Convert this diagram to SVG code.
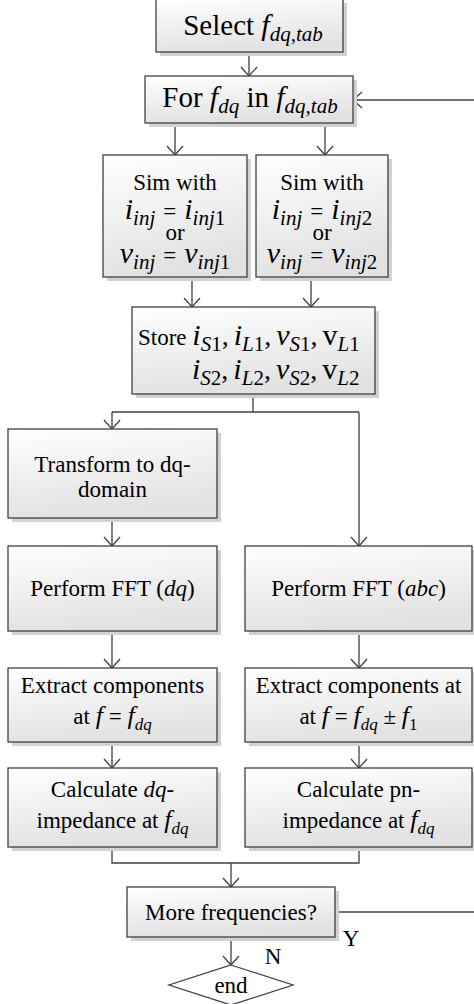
<svg xmlns="http://www.w3.org/2000/svg" width="474" height="1004" viewBox="0 0 474 1004" font-family="'Liberation Serif', 'Times New Roman', serif">
<defs>
<linearGradient id="g" x1="0" y1="0" x2="0.25" y2="1">
<stop offset="0" stop-color="#ffffff"/><stop offset="1" stop-color="#e2e2e2"/>
</linearGradient>
<marker id="a" markerUnits="userSpaceOnUse" viewBox="-11 -10 13 20" markerWidth="13" markerHeight="20" refX="0" refY="0" orient="auto">
<path d="M-9,-8 L0,0 L-9,8" fill="none" stroke="#404040" stroke-width="1.3"/>
</marker>
</defs>
<style>
.box{fill:url(#g);stroke:#404040;stroke-width:1.3}
.sh{fill:#d2d2d2}
.t{font-family:"Liberation Serif","Times New Roman",serif;font-size:23px;fill:#000;text-anchor:middle}
.l{text-anchor:start}
.i{font-style:italic;font-size:26px}
.s{font-size:17px;font-style:italic}
.n{font-size:17px;font-style:normal}
.m{font-style:italic;font-size:30px}
.ms{font-style:italic;font-size:21px}
.mn{font-style:normal;font-size:21px}
.big{font-size:29px}
.ln{fill:none;stroke:#404040;stroke-width:1.3}
</style>
<g id="connectors" class="ln">
<path d="M249,52 V76" marker-end="url(#a)"/>
<path d="M474,100 H353" marker-end="url(#a)"/>
<path d="M175,123 V155" marker-end="url(#a)"/>
<path d="M325,123 V155" marker-end="url(#a)"/>
<path d="M192,277 V307" marker-end="url(#a)"/>
<path d="M311,277 V307" marker-end="url(#a)"/>
<path d="M253,394 V412 M112,412 H359"/>
<path d="M112,412 V429" marker-end="url(#a)"/>
<path d="M359,412 V546" marker-end="url(#a)"/>
<path d="M112,518 V546" marker-end="url(#a)"/>
<path d="M112,631 V668" marker-end="url(#a)"/>
<path d="M359,631 V668" marker-end="url(#a)"/>
<path d="M112,742 V768" marker-end="url(#a)"/>
<path d="M359,742 V768" marker-end="url(#a)"/>
<path d="M112,847 V863 H359 V847"/>
<path d="M231,863 V887" marker-end="url(#a)"/>
<path d="M335,912 H474"/>
<path d="M231,937 V965" marker-end="url(#a)"/>
</g>
<g id="select">
<rect class="sh" x="160" y="3" width="187" height="53"/>
<rect class="box" x="156" y="-1" width="187" height="53"/>
<text class="t big" x="253" y="35">Select <tspan class="m" font-size="32">f</tspan><tspan class="ms" font-size="22" dy="6">dq,tab</tspan></text>
</g>
<g id="for">
<rect class="sh" x="149" y="80" width="208" height="47"/>
<rect class="box" x="145" y="76" width="208" height="47"/>
<text class="t big" x="250" y="107">For <tspan class="m">f</tspan><tspan class="ms" dy="6">dq</tspan><tspan dy="-6"> in </tspan><tspan class="m">f</tspan><tspan class="ms" dy="6">dq,tab</tspan></text>
</g>
<g id="sim1">
<rect class="sh" x="107" y="159" width="144" height="122"/>
<rect class="box" x="103" y="155" width="144" height="122"/>
<text class="t" x="175" y="190" font-size="25">Sim with</text>
<text class="t" x="175" y="219" font-size="26"><tspan class="m">i</tspan><tspan class="ms" dy="6">inj</tspan><tspan dy="-6" dx="8">=</tspan><tspan class="m" dx="8">i</tspan><tspan class="ms" dy="6">inj</tspan><tspan class="mn">1</tspan></text>
<text class="t" x="175" y="240" font-size="20">or</text>
<text class="t" x="175" y="263" font-size="26"><tspan class="m">v</tspan><tspan class="ms" dy="6">inj</tspan><tspan dy="-6" dx="8">=</tspan><tspan class="m" dx="8">v</tspan><tspan class="ms" dy="6">inj</tspan><tspan class="mn">1</tspan></text>
</g>
<g id="sim2">
<rect class="sh" x="260" y="159" width="132" height="122"/>
<rect class="box" x="256" y="155" width="132" height="122"/>
<text class="t" x="322" y="190" font-size="25">Sim with</text>
<text class="t" x="322" y="219" font-size="26"><tspan class="m">i</tspan><tspan class="ms" dy="6">inj</tspan><tspan dy="-6" dx="8">=</tspan><tspan class="m" dx="8">i</tspan><tspan class="ms" dy="6">inj</tspan><tspan class="mn">2</tspan></text>
<text class="t" x="322" y="240" font-size="20">or</text>
<text class="t" x="322" y="263" font-size="26"><tspan class="m">v</tspan><tspan class="ms" dy="6">inj</tspan><tspan dy="-6" dx="8">=</tspan><tspan class="m" dx="8">v</tspan><tspan class="ms" dy="6">inj</tspan><tspan class="mn">2</tspan></text>
</g>
<g id="store">
<rect class="sh" x="136" y="311" width="243" height="87"/>
<rect class="box" x="132" y="307" width="243" height="87"/>
<text class="t l" x="138" y="345">Store <tspan class="m">i</tspan><tspan class="ms" dy="6">S</tspan><tspan class="mn">1</tspan><tspan dy="-6" font-size="28">,</tspan><tspan class="m" dx="5">i</tspan><tspan class="ms" dy="6">L</tspan><tspan class="mn">1</tspan><tspan dy="-6" font-size="28">,</tspan><tspan class="m" dx="5">v</tspan><tspan class="ms" dy="6">S</tspan><tspan class="mn">1</tspan><tspan dy="-6" font-size="28">,</tspan><tspan dx="5" font-size="30">v</tspan><tspan class="ms" dy="6">L</tspan><tspan class="mn">1</tspan></text>
<text class="t l" x="192" y="379"><tspan class="m">i</tspan><tspan class="ms" dy="6">S</tspan><tspan class="mn">2</tspan><tspan dy="-6" font-size="28">,</tspan><tspan class="m" dx="5">i</tspan><tspan class="ms" dy="6">L</tspan><tspan class="mn">2</tspan><tspan dy="-6" font-size="28">,</tspan><tspan class="m" dx="5">v</tspan><tspan class="ms" dy="6">S</tspan><tspan class="mn">2</tspan><tspan dy="-6" font-size="28">,</tspan><tspan dx="5" font-size="30">v</tspan><tspan class="ms" dy="6">L</tspan><tspan class="mn">2</tspan></text>
</g>
<g id="transform">
<rect class="sh" x="12" y="433" width="209" height="89"/>
<rect class="box" x="8" y="429" width="209" height="89"/>
<text class="t" x="112.5" y="472">Transform to dq-</text>
<text class="t" x="112.5" y="497">domain</text>
</g>
<g id="fftdq">
<rect class="sh" x="12" y="550" width="209" height="85"/>
<rect class="box" x="8" y="546" width="209" height="85"/>
<text class="t" x="112.5" y="596">Perform FFT (<tspan font-style="italic">dq</tspan>)</text>
</g>
<g id="fftabc">
<rect class="sh" x="249" y="550" width="227" height="85"/>
<rect class="box" x="245" y="546" width="227" height="85"/>
<text class="t" x="358.5" y="596">Perform FFT (<tspan font-style="italic">abc</tspan>)</text>
</g>
<g id="extractdq">
<rect class="sh" x="12" y="672" width="209" height="74"/>
<rect class="box" x="8" y="668" width="209" height="74"/>
<text class="t" x="112.5" y="693">Extract components</text>
<text class="t" x="112.5" y="724">at <tspan class="i">f</tspan> = <tspan class="i">f</tspan><tspan class="s" dy="6">dq</tspan></text>
</g>
<g id="extractpn">
<rect class="sh" x="249" y="672" width="227" height="74"/>
<rect class="box" x="245" y="668" width="227" height="74"/>
<text class="t" x="358.5" y="693">Extract components at</text>
<text class="t" x="358.5" y="724">at <tspan class="i">f</tspan> = <tspan class="i">f</tspan><tspan class="s" dy="6">dq</tspan><tspan dy="-6"> ± </tspan><tspan class="i">f</tspan><tspan class="n" dy="6">1</tspan></text>
</g>
<g id="calcdq">
<rect class="sh" x="12" y="772" width="209" height="79"/>
<rect class="box" x="8" y="768" width="209" height="79"/>
<text class="t" x="112.5" y="797">Calculate <tspan font-style="italic">dq</tspan>-</text>
<text class="t" x="112.5" y="828">impedance at <tspan class="i">f</tspan><tspan class="s" dy="6">dq</tspan></text>
</g>
<g id="calcpn">
<rect class="sh" x="249" y="772" width="227" height="79"/>
<rect class="box" x="245" y="768" width="227" height="79"/>
<text class="t" x="358.5" y="797">Calculate pn-</text>
<text class="t" x="358.5" y="828">impedance at <tspan class="i">f</tspan><tspan class="s" dy="6">dq</tspan></text>
</g>
<g id="more">
<rect class="sh" x="131" y="891" width="208" height="50"/>
<rect class="box" x="127" y="887" width="208" height="50"/>
<text class="t" x="231" y="920">More frequencies?</text>
</g>
<g id="labels">
<text class="t" x="351" y="946">Y</text>
<text class="t" x="273" y="964">N</text>
</g>
<g id="end">
<polygon points="231,965 293,985 231,1005 169,985" fill="#fff" stroke="#404040" stroke-width="1.3"/>
<text class="t" x="231" y="993">end</text>
</g>
</svg>
